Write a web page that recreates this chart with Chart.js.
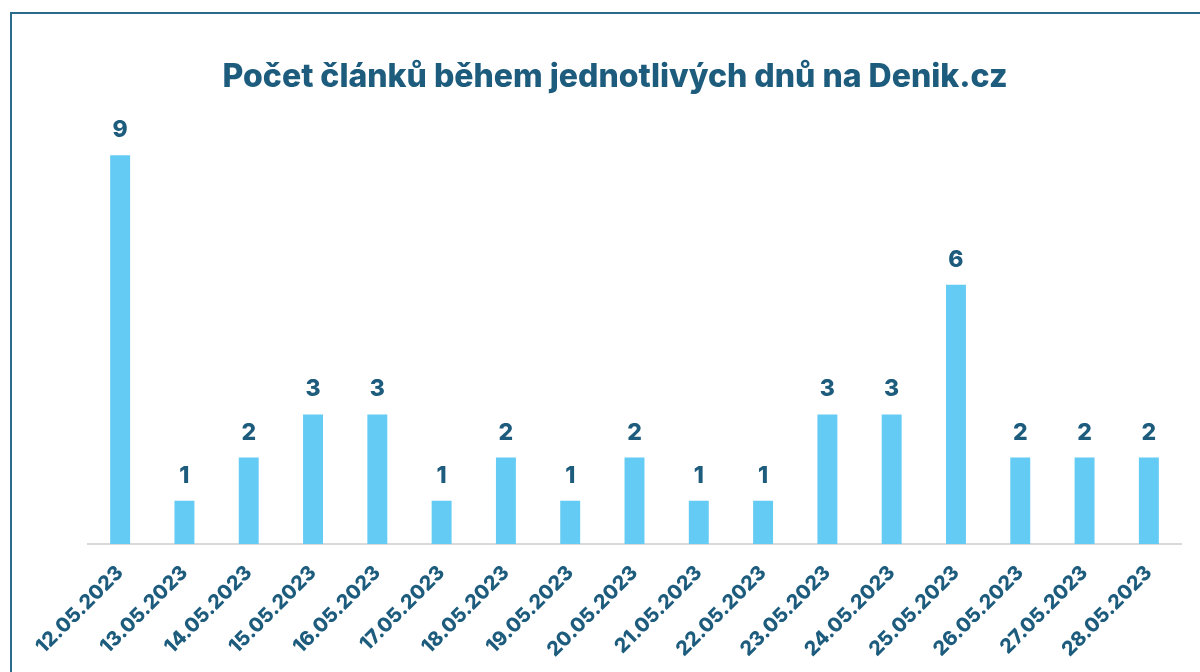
<!DOCTYPE html>
<html>
<head>
<meta charset="utf-8">
<script src="https://cdn.jsdelivr.net/npm/chart.js@4"></script>
<style>
  html, body { margin: 0; padding: 0; background: #fff; overflow: hidden; }
  #frame {
    position: absolute; left: 10px; top: 12px;
    width: 1300px; height: 800px;
    border: 2px solid #2a6b8c;
  }
  #wrap { position: absolute; left: 0; top: 0; width: 1200px; height: 672px; }
</style>
</head>
<body>
<div id="frame"></div>
<div id="wrap"><canvas id="chart"></canvas></div>
<script>
// categories and values
const days = [
  "12.05.2023", "13.05.2023", "14.05.2023", "15.05.2023", "16.05.2023",
  "17.05.2023", "18.05.2023", "19.05.2023", "20.05.2023", "21.05.2023",
  "22.05.2023", "23.05.2023", "24.05.2023", "25.05.2023", "26.05.2023",
  "27.05.2023", "28.05.2023"
];
const articleCounts = [9, 1, 2, 3, 3, 1, 2, 1, 2, 1, 1, 3, 3, 6, 2, 2, 2];
const chartTitle = "Počet článků během jednotlivých dnů na Denik.cz";

const textColor = "#1d5c7d";
const barColor = "#63cbf4";

// title is centred on the page, not on the plot, so draw it by hand
const pageTitle = {
  id: "pageTitle",
  afterDraw(chart) {
    const { ctx } = chart;
    ctx.save();
    ctx.font = "800 32px Inter";
    ctx.fillStyle = textColor;
    ctx.textAlign = "center";
    ctx.textBaseline = "alphabetic";
    ctx.fillText(chartTitle, 615, 87);
    ctx.restore();
  },
};

// draws the value above each bar
const valueLabels = {
  id: "valueLabels",
  afterDatasetsDraw(chart) {
    const { ctx } = chart;
    const meta = chart.getDatasetMeta(0);
    ctx.save();
    ctx.font = "800 23px Inter";
    ctx.fillStyle = textColor;
    ctx.textAlign = "center";
    ctx.textBaseline = "alphabetic";
    meta.data.forEach((bar, i) => {
      ctx.fillText(articleCounts[i], bar.x, bar.y - 18);
    });
    ctx.restore();
  },
};

new Chart(document.getElementById("chart"), {
  type: "bar",
  data: {
    labels: days,
    datasets: [
      {
        label: "Počet článků",
        data: articleCounts,
        backgroundColor: barColor,
        barPercentage: 0.31,
        categoryPercentage: 1,
      },
    ],
  },
  options: {
    responsive: true,
    maintainAspectRatio: false,
    animation: false,
    layout: { padding: { left: 88, right: 19, top: 112, bottom: 0 } },
    plugins: {
      legend: { display: false },
      tooltip: { enabled: false },
      title: { display: false },
    },
    scales: {
      x: {
        grid: { display: false, drawTicks: false },
        border: { color: "#d9d9d9", width: 2 },
        ticks: {
          color: textColor,
          font: { family: "Inter", size: 20, weight: "800" },
          minRotation: 45,
          maxRotation: 45,
          padding: 17,
        },
        // let the rotated labels hang past the plot edges, as in the original
        afterFit(scale) {
          scale.paddingLeft = 0;
          scale.paddingRight = 0;
          scale.height = 128;
        },
      },
      y: {
        display: false,
        min: 0,
        max: 10,
      },
    },
  },
  plugins: [valueLabels, pageTitle],
});
</script>
</body>
</html>
